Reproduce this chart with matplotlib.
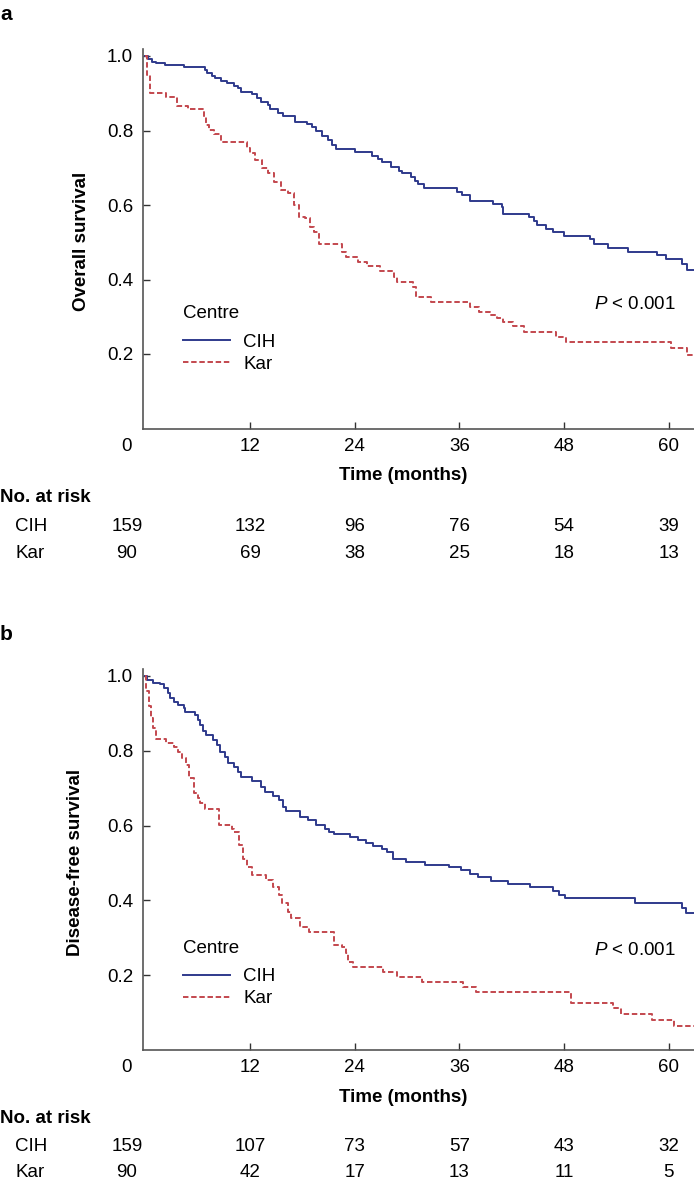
#!/usr/bin/env python3

from matplotlib import pyplot as plt
from matplotlib import transforms
from matplotlib.lines import Line2D


plt.rcParams['font.family'] = ['Liberation Sans', 'DejaVu Sans']
plt.rcParams['mathtext.fontset'] = 'custom'
plt.rcParams['mathtext.rm'] = 'Liberation Sans'
plt.rcParams['mathtext.it'] = 'Liberation Sans:italic'

BLUE = '#2f3a8c'
RED = '#c3474e'
FS = 13.5

# Kaplan-Meier steps (months, survival)
os_cih_t = [0, 0.25, 0.7, 1.2, 2.2, 4.45, 6.8, 7.1, 7.6, 8.0, 8.7, 9.3, 10.1,
            10.6, 11.0, 12.25, 12.75, 13.3, 14.0, 14.3, 15.2, 15.8, 17.15,
            18.5, 19.1, 19.6, 20.2, 20.9, 21.4, 21.85, 24.0, 26.0, 26.7, 27.1,
            28.2, 29.1, 29.4, 30.5, 30.9, 31.3, 31.9, 35.7, 36.3, 37.2, 39.9,
            40.9, 41.05, 44.0, 44.6, 44.9, 45.9, 46.8, 48.0, 51.0, 51.5, 53.1,
            55.3, 58.7, 59.7, 61.6, 62.1, 63.0]
os_cih_s = [1.0, 0.991, 0.985, 0.980, 0.976, 0.970, 0.962, 0.955, 0.947,
            0.940, 0.933, 0.927, 0.920, 0.913, 0.904, 0.897, 0.886, 0.876,
            0.868, 0.858, 0.846, 0.839, 0.824, 0.817, 0.810, 0.799, 0.786,
            0.774, 0.761, 0.749, 0.741, 0.732, 0.723, 0.716, 0.703, 0.692,
            0.685, 0.674, 0.665, 0.656, 0.645, 0.636, 0.627, 0.611, 0.602,
            0.595, 0.576, 0.567, 0.558, 0.546, 0.536, 0.527, 0.517, 0.508,
            0.495, 0.485, 0.475, 0.466, 0.454, 0.442, 0.426, 0.426]

os_kar_t = [0, 0.15, 0.5, 2.4, 3.6, 4.9, 6.75, 7.0, 7.3, 7.9, 8.7, 11.6, 12.0,
            12.6, 13.4, 14.0, 14.8, 15.6, 16.3, 17.0, 17.6, 18.3, 18.9, 19.3,
            19.9, 22.6, 23.0, 24.4, 25.4, 26.9, 28.5, 28.8, 30.65, 31.0, 32.7,
            37.2, 38.3, 39.5, 40.3, 41.0, 42.2, 43.4, 47.1, 48.2, 60.25,
            62.15, 63.0]
os_kar_s = [1.0, 0.95, 0.90, 0.889, 0.867, 0.857, 0.837, 0.815, 0.801, 0.790,
            0.768, 0.752, 0.739, 0.721, 0.700, 0.685, 0.663, 0.640, 0.631,
            0.600, 0.569, 0.564, 0.540, 0.528, 0.494, 0.475, 0.461, 0.448,
            0.436, 0.423, 0.408, 0.394, 0.381, 0.354, 0.340, 0.327, 0.314,
            0.305, 0.296, 0.287, 0.275, 0.260, 0.246, 0.233, 0.215, 0.197,
            0.197]

dfs_cih_t = [0, 0.14, 0.9, 1.65, 2.15, 2.6, 2.8, 3.3, 3.7, 4.45, 4.55, 5.7,
             6.0, 6.25, 6.6, 7.0, 7.8, 8.2, 8.55, 9.1, 9.5, 10.1, 10.6, 11.0,
             12.25, 13.25, 13.7, 14.65, 15.3, 15.8, 16.1, 17.7, 18.7, 19.6,
             20.6, 21.1, 21.6, 23.5, 24.4, 25.3, 26.1, 27.1, 27.7, 28.35, 29.9,
             32.1, 34.85, 36.2, 37.2, 38.1, 39.6, 41.6, 44.1, 46.8, 47.4, 48.1,
             56.2, 61.6, 62.0, 63.0]
dfs_cih_s = [1.0, 0.989, 0.982, 0.978, 0.969, 0.954, 0.940, 0.931, 0.922,
             0.914, 0.905, 0.896, 0.882, 0.869, 0.853, 0.842, 0.829, 0.816,
             0.796, 0.784, 0.767, 0.758, 0.744, 0.729, 0.719, 0.704, 0.689,
             0.680, 0.668, 0.651, 0.639, 0.624, 0.615, 0.602, 0.590, 0.584,
             0.577, 0.569, 0.561, 0.554, 0.545, 0.537, 0.530, 0.512, 0.504,
             0.495, 0.488, 0.480, 0.470, 0.462, 0.453, 0.445, 0.435, 0.426,
             0.414, 0.406, 0.394, 0.379, 0.366, 0.366]

dfs_kar_t = [0, 0.1, 0.4, 0.6, 0.9, 1.2, 2.4, 3.3, 3.7, 4.2, 4.6, 4.95, 5.6,
             6.0, 6.25, 6.8, 8.4, 9.9, 10.2, 10.7, 11.2, 11.7, 12.25, 13.8,
             14.6, 15.3, 15.7, 16.3, 16.7, 17.7, 18.8, 21.6, 22.6, 23.0, 23.2,
             23.8, 27.2, 28.8, 31.7, 36.45, 37.9, 48.8, 53.6, 54.5, 58.1, 60.6,
             63.0]
dfs_kar_s = [1.0, 0.96, 0.92, 0.887, 0.86, 0.832, 0.820, 0.811, 0.796, 0.780,
             0.762, 0.726, 0.686, 0.673, 0.660, 0.644, 0.602, 0.590, 0.583,
             0.548, 0.512, 0.490, 0.468, 0.455, 0.437, 0.414, 0.392, 0.370,
             0.352, 0.330, 0.316, 0.281, 0.276, 0.259, 0.236, 0.223, 0.209,
             0.196, 0.183, 0.169, 0.155, 0.127, 0.111, 0.096, 0.080, 0.064,
             0.064]

risk_times = [0, 12, 24, 36, 48, 60]
os_risk_cih = [159, 132, 96, 76, 54, 39]
os_risk_kar = [90, 69, 38, 25, 18, 13]
dfs_risk_cih = [159, 107, 73, 57, 43, 32]
dfs_risk_kar = [90, 42, 17, 13, 11, 5]

W, H = 694, 1186
fig = plt.figure(figsize=(W / 100, H / 100), dpi=100)


def fx(px):
    return px / W


def fy(py):
    return 1 - py / H


def panel(top, bottom, cih, kar, ylabel, ylabel_x, letter, letter_y,
          risk_cih, risk_kar, rows_y, legend_y, p_y):
    ax = fig.add_axes([fx(142.5), fy(bottom), 1 - fx(142.5), (bottom - top) / H])
    ax.step(cih[0], cih[1], where='post', color=BLUE, linewidth=1.4,
            label='CIH')
    ax.step(kar[0], kar[1], where='post', color=RED, linewidth=1.4,
            linestyle=(0, (2.8, 1.4)), label='Kar')

    ax.set_xlim(-0.34, 62.92)
    ax.set_ylim(0, (bottom - top) / ((bottom - top - 7) / 1.0))
    for side in ('top', 'right'):
        ax.spines[side].set_visible(False)
    for side in ('left', 'bottom'):
        ax.spines[side].set_color('#555555')
        ax.spines[side].set_linewidth(1.2)

    ax.set_yticks([0.2, 0.4, 0.6, 0.8, 1.0])
    ax.set_yticklabels(['0.2', '0.4', '0.6', '0.8', '1.0'])
    ax.set_xticks(risk_times)
    ax.set_xticklabels([str(t) for t in risk_times])
    ax.tick_params(direction='in', length=5, width=1, color='#333333',
                   labelsize=FS)
    ax.tick_params(axis='y', pad=6.8)
    ax.tick_params(axis='x', pad=6.5)
    ax.xaxis.get_major_ticks()[0].tick1line.set_visible(False)
    shift = transforms.ScaledTranslation(-18.5 / 100, 0, fig.dpi_scale_trans)
    lab0 = ax.get_xticklabels()[0]
    lab0.set_transform(lab0.get_transform() + shift)

    fig.text(fx(ylabel_x), fy((top + bottom) / 2 + 3), ylabel, rotation=90,
             ha='center', va='center', fontsize=FS, fontweight='bold')
    fig.text(fx(0), fy(letter_y), letter, fontsize=15, fontweight='bold',
             ha='left', va='baseline')
    fig.text(fx(403), fy(rows_y[0]), 'Time (months)', fontsize=FS,
             fontweight='bold', ha='center', va='baseline')

    handles = [Line2D([], [], color=BLUE, linewidth=1.4),
               Line2D([], [], color=RED, linewidth=1.4,
                      linestyle=(0, (2.8, 1.4)))]
    leg = ax.legend(handles, ['CIH', 'Kar'], title='Centre', loc='upper left',
                    bbox_to_anchor=(0.074, legend_y), frameon=False,
                    handlelength=2.5, handletextpad=0.7, labelspacing=0.25,
                    borderpad=0, borderaxespad=0, alignment='left',
                    fontsize=FS, title_fontsize=FS)
    leg._legend_box.sep = 0.25 * FS + 5
    ax.text(0.967, p_y, r'$P$ < 0.001', transform=ax.transAxes, ha='right',
            va='center', fontsize=FS)

    # number at risk table
    fig.text(fx(0), fy(rows_y[1]), 'No. at risk', fontsize=FS,
             fontweight='bold', ha='left', va='baseline')
    blend = transforms.blended_transform_factory(ax.transData, fig.transFigure)
    for name, counts, ry in (('CIH', risk_cih, rows_y[2]),
                             ('Kar', risk_kar, rows_y[3])):
        fig.text(fx(15.5), fy(ry), name, fontsize=FS, ha='left',
                 va='baseline')
        for i, (t, n) in enumerate(zip(risk_times, counts)):
            tr = blend + shift if i == 0 else blend
            fig.text(t, fy(ry), str(n), transform=tr, fontsize=FS,
                     ha='center', va='baseline')
    return ax


panel(49, 428.5, (os_cih_t, os_cih_s), (os_kar_t, os_kar_s),
      'Overall survival', 81, 'a', 20, os_risk_cih, os_risk_kar,
      (480, 501.7, 531, 557.7), 0.325, 0.327)
panel(669, 1050, (dfs_cih_t, dfs_cih_s), (dfs_kar_t, dfs_kar_s),
      'Disease-free survival', 76, 'b', 640, dfs_risk_cih, dfs_risk_kar,
      (1102, 1122.7, 1151, 1176.7), 0.290, 0.262)

plt.savefig('out.png', dpi=100)
